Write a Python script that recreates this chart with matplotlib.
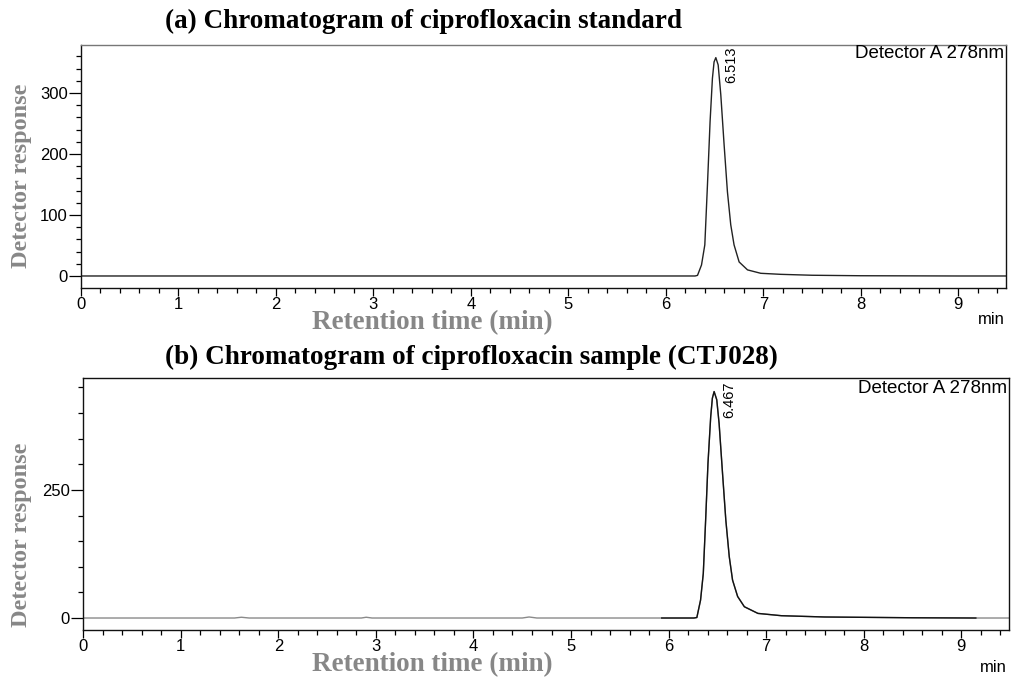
import matplotlib
matplotlib.use("Agg")
import matplotlib.pyplot as plt
from matplotlib.ticker import MultipleLocator
import numpy as np

# ---------------- data ----------------
time_a = [0.0, 1.0, 2.0, 3.0, 4.0, 5.0, 6.0, 6.30, 6.325, 6.366, 6.40, 6.427, 6.454,
          6.478, 6.495, 6.513, 6.537, 6.564, 6.598, 6.632, 6.666, 6.70, 6.752,
          6.838, 6.974, 7.18, 7.5, 8.0, 9.0, 9.49]
resp_a = [0.0, 0.0, 0.0, 0.0, 0.0, 0.0, 0.0, 0.0, 1.0, 18.0, 51.0, 149.0, 253.0,
          324.0, 351.0, 358.0, 346.0, 297.0, 215.0, 138.0, 84.0, 51.0, 23.0,
          10.0, 4.4, 2.7, 1.2, 0.4, 0.0, 0.0]

time_b = [0.0, 1.55, 1.62, 1.70, 2.85, 2.90, 2.96, 4.50, 4.57, 4.65, 5.93, 6.26,
          6.29, 6.328, 6.356, 6.38, 6.404, 6.432, 6.449, 6.467, 6.494, 6.518,
          6.553, 6.587, 6.622, 6.656, 6.708, 6.777, 6.916, 7.157, 7.6, 8.5,
          9.15, 9.49]
resp_b = [0.0, 0.0, 1.5, 0.0, 0.0, 1.5, 0.0, 0.0, 2.0, 0.0, 0.0, 0.0,
          1.0, 35.0, 87.0, 191.0, 302.0, 393.0, 429.0, 442.0, 426.0, 380.0,
          283.0, 191.0, 120.0, 74.0, 42.0, 22.0, 9.0, 4.5, 2.0, 0.5,
          0.0, 0.0]

peak_a = "6.513"
peak_b = "6.467"
detector_text = "Detector A 278nm"
title_a = "(a) Chromatogram of ciprofloxacin standard"
title_b = "(b) Chromatogram of ciprofloxacin sample (CTJ028)"
ylabel_text = "Detector response"
xlabel_text = "Retention time (min)"

# ---------------- styling ----------------
W, H = 1011, 677
SERIF = ["Liberation Serif", "DejaVu Serif"]
SANS = ["Liberation Sans", "DejaVu Sans"]
GREY = "#878787"

fig = plt.figure(figsize=(W / 100, H / 100), dpi=100)

ax_a = fig.add_axes([81 / W, 1 - 288 / H, (1006 - 81) / W, (288 - 45) / H])
ax_b = fig.add_axes([83.3 / W, 1 - 630 / H, (1009 - 83.3) / W, (630 - 378) / H])


def style_axes(ax, ymaj, ymin, ylim):
    ax.set_xlim(0, 9.49)
    ax.set_ylim(*ylim)
    ax.xaxis.set_major_locator(MultipleLocator(1))
    ax.xaxis.set_minor_locator(MultipleLocator(0.2))
    ax.yaxis.set_major_locator(MultipleLocator(ymaj))
    ax.yaxis.set_minor_locator(MultipleLocator(ymin))
    ax.tick_params(axis="x", which="major", direction="out", length=6, width=0.9, pad=0.5,
                   labelsize=12)
    ax.tick_params(axis="x", which="minor", direction="out", length=3.6, width=0.9)
    ax.tick_params(axis="y", which="major", direction="out", length=9, width=0.9, pad=0.5,
                   labelsize=12)
    ax.tick_params(axis="y", which="minor", direction="out", length=3.6, width=0.9)
    for lab in ax.get_xticklabels() + ax.get_yticklabels():
        lab.set_fontfamily(SANS)
    for s in ax.spines.values():
        s.set_linewidth(1.0)
        s.set_color("#111111")


style_axes(ax_a, 100, 20, (-19.7, 378.7))
style_axes(ax_b, 250, 50, (-23.4, 468.5))
ax_a.spines["top"].set_color("#777777")

# panel a
ax_a.plot(time_a, resp_a, color="#222222", lw=1.0)
ax_a.text(6.674, 376, peak_a, rotation=90, ha="center", va="top", fontsize=10.5,
          family=SANS)
ax_a.text(0.998, 0.967, detector_text, transform=ax_a.transAxes, ha="right", va="center",
          fontsize=13.5, family=SANS)

# panel b: grey baseline trace, black segment around the peak
tb = np.array(time_b)
rb = np.array(resp_b)
ax_b.plot(tb, rb, color="#8a8a8a", lw=1.0)
mask = (tb >= 5.93) & (tb <= 9.15)
ax_b.plot(tb[mask], rb[mask], color="#111111", lw=1.0)
ax_b.text(6.62, 461, peak_b, rotation=90, ha="center", va="top", fontsize=10.5,
          family=SANS)
ax_b.text(0.9975, 0.960, detector_text, transform=ax_b.transAxes, ha="right", va="center",
          fontsize=13.5, family=SANS)

# titles
fig.text(165 / W, 1 - 21 / H, title_a, ha="left", va="center", fontsize=19.5,
         fontweight="bold", family=SERIF)
fig.text(165 / W, 1 - 357 / H, title_b, ha="left", va="center", fontsize=19.5,
         fontweight="bold", family=SERIF)

# y labels
fig.text(22 / W, 1 - 176 / H, ylabel_text, rotation=90, ha="center", va="center",
         fontsize=17.5, fontweight="bold", family=SERIF, color=GREY)
fig.text(22 / W, 1 - 535 / H, ylabel_text, rotation=90, ha="center", va="center",
         fontsize=17.5, fontweight="bold", family=SERIF, color=GREY)

# x labels
fig.text(432 / W, 1 - 329 / H, xlabel_text, ha="center", va="baseline",
         fontsize=19.5, fontweight="bold", family=SERIF, color=GREY)
fig.text(432 / W, 1 - 671 / H, xlabel_text, ha="center", va="baseline",
         fontsize=19.5, fontweight="bold", family=SERIF, color=GREY)

# "min" unit labels
fig.text(1005 / W, 1 - 324 / H, "min", ha="right", va="baseline", fontsize=12,
         family=SANS)
fig.text(1007 / W, 1 - 672 / H, "min", ha="right", va="baseline", fontsize=12,
         family=SANS)

fig.savefig("out.png", dpi=100)
